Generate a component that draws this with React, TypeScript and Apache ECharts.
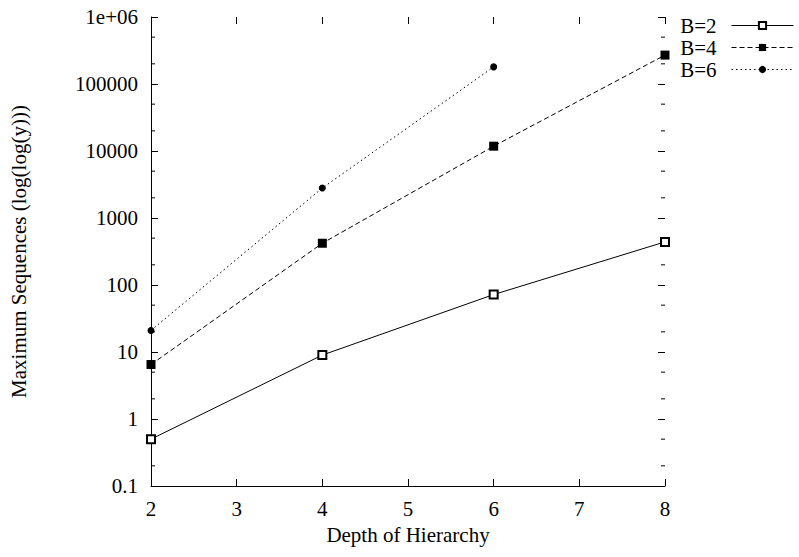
import React, { useEffect, useRef } from "react";
import * as echarts from "echarts";

const depths = [2, 4, 6, 8];
const seriesNames = ["B=2", "B=4", "B=6"];
const b2Values = [0.5, 9, 72, 440];
const b4Values = [6.5, 420, 11800, 270000];
const b6Values = [21, 2800, 180000];
const minorTickValues = [0.2, 0.5, 2, 5, 20, 50, 200, 500, 2000, 5000, 20000, 50000, 200000, 500000];

const FONT = "Times New Roman, Liberation Serif, DejaVu Serif, serif";
const FS = 21;

function yLabel(v: number): string {
  if (v >= 999999) return "1e+06";
  if (v < 1) return String(Math.round(v * 10) / 10);
  return String(Math.round(v));
}

export default function App() {
  const ref = useRef<HTMLDivElement>(null);
  useEffect(() => {
    if (!ref.current) return;
    const chart = echarts.init(ref.current, null, { renderer: "svg" });
    const black = "#000";
    const lineOf = (vals: number[]) => vals.map((v, i) => [depths[i], v]);
    const option: any = {
      animation: false,
      backgroundColor: "#fff",
      textStyle: { fontFamily: FONT, color: black },
      grid: { left: 150, right: 134, top: 17, bottom: 71, containLabel: false },
      legend: {
        data: seriesNames,
        orient: "vertical",
        right: 0,
        top: 10,
        align: "right",
        itemWidth: 62,
        itemHeight: 9,
        itemGap: 1,
        lineStyle: { width: 1 },
        textStyle: { fontFamily: FONT, fontSize: FS, color: black, lineHeight: 20, padding: [0, 10, 0, 0] },
      },
      xAxis: [
        {
          type: "value",
          min: 2,
          max: 8,
          interval: 1,
          position: "bottom",
          name: "Depth of Hierarchy",
          nameLocation: "middle",
          nameGap: 38,
          nameTextStyle: { fontFamily: FONT, fontSize: FS, color: black },
          axisLine: { show: true, lineStyle: { color: black, width: 1 } },
          axisTick: { show: true, inside: true, length: 7, lineStyle: { color: black } },
          axisLabel: { fontFamily: FONT, fontSize: FS, color: black, margin: 12 },
          splitLine: { show: false },
        },
        {
          type: "value",
          min: 2,
          max: 8,
          interval: 1,
          position: "top",
          axisLine: { show: false },
          axisTick: { show: true, inside: true, length: 7, lineStyle: { color: black } },
          axisLabel: { show: false },
          splitLine: { show: false },
        },
      ],
      yAxis: [
        {
          type: "log",
          logBase: 10,
          min: 0.1,
          max: 1000000,
          position: "left",
          name: "Maximum Sequences (log(log(y)))",
          nameLocation: "middle",
          nameGap: 122,
          nameTextStyle: { fontFamily: FONT, fontSize: FS, color: black },
          axisLine: { show: true, lineStyle: { color: black, width: 1 } },
          axisTick: { show: true, inside: true, length: 7, lineStyle: { color: black } },
          axisLabel: { fontFamily: FONT, fontSize: FS, color: black, margin: 13, formatter: yLabel },
          splitLine: { show: false },
        },
        {
          type: "log",
          logBase: 10,
          min: 0.1,
          max: 1000000,
          position: "right",
          axisLine: { show: false },
          axisTick: { show: true, inside: true, length: 7, lineStyle: { color: black } },
          axisLabel: { show: false },
          splitLine: { show: false },
        },
      ],
      series: [
        {
          name: "B=2",
          type: "line",
          data: lineOf(b2Values),
          symbol: "emptyRect",
          symbolSize: 8,
          itemStyle: { color: black, borderColor: black, borderWidth: 1 },
          lineStyle: { color: black, width: 1, type: "solid" },
          color: black,
        },
        {
          name: "B=4",
          type: "line",
          data: lineOf(b4Values),
          symbol: "rect",
          symbolSize: 9,
          itemStyle: { color: black },
          lineStyle: { color: black, width: 1, type: [5, 3] },
          color: black,
        },
        {
          name: "B=6",
          type: "line",
          data: lineOf(b6Values),
          symbol: "circle",
          symbolSize: 7,
          itemStyle: { color: black },
          lineStyle: { color: black, width: 1, type: [1.5, 3] },
          color: black,
        },
        {
          name: "minorTicks",
          type: "custom",
          silent: true,
          clip: false,
          data: minorTickValues.map((v) => [2, v]),
          encode: { x: 0, y: 1 },
          renderItem: (params: any, api: any) => {
            const v = api.value(1);
            const l = api.coord([2, v]);
            const r = api.coord([8, v]);
            return {
              type: "group",
              children: [
                { type: "line", shape: { x1: l[0], y1: l[1], x2: l[0] + 4, y2: l[1] }, style: { stroke: black, lineWidth: 1 } },
                { type: "line", shape: { x1: r[0] - 4, y1: r[1], x2: r[0], y2: r[1] }, style: { stroke: black, lineWidth: 1 } },
              ],
            };
          },
        },
      ],
    };
    chart.setOption(option);
    return () => chart.dispose();
  }, []);
  return (
    <div
      ref={ref}
      style={{ position: "fixed", left: 0, top: 0, width: 799, height: 557, background: "#fff" }}
    />
  );
}
